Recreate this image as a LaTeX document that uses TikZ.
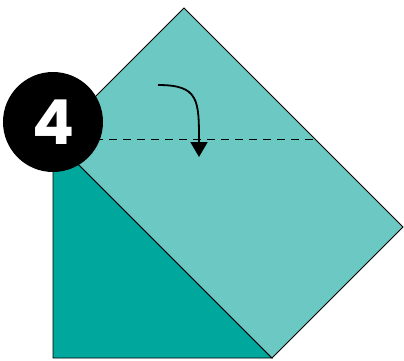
\documentclass[tikz,border=0pt]{standalone}
\usepackage{fontspec}
\newfontfamily\badgefont{Poppins}
\usetikzlibrary{arrows.meta}
\definecolor{lightteal}{RGB}{107,200,195}
\definecolor{darkteal}{RGB}{0,167,157}

\begin{document}
\begin{tikzpicture}[x=1pt, y=-1pt]
    \useasboundingbox (0,0) rectangle (404,360);

    % Corners of the paper
    \coordinate (left) at (53,139);
    \coordinate (top) at (184,8);
    \coordinate (right) at (403,227);
    \coordinate (bottom) at (272,358);
    \coordinate (corner) at (53,358);

    % Back flap (dark side)
    \draw[fill=darkteal, line width=0.8pt] (left) -- (corner) -- (bottom) -- cycle;

    % Front face (light side)
    \draw[fill=lightteal, line width=0.8pt] (left) -- (top) -- (right) -- (bottom) -- cycle;

    % Fold line
    \coordinate (foldend) at (315,139);
    \draw[dashed, dash pattern=on 8pt off 6pt, line width=0.9pt] (left) -- (foldend);

    % Fold arrow
    \coordinate (arrowstart) at (158,85);
    \coordinate (arrowend) at (199,157);
    \draw[line width=1.8pt, -{Triangle[length=15pt, width=17pt]}]
        (arrowstart) .. controls (199,85) and (199,100) .. (arrowend);

    % Step badge
    \node[circle, fill=black, minimum size=100pt, inner sep=0pt, text=white,
          font=\badgefont\bfseries\fontsize{62}{62}\selectfont] (badge) at (53,122) {4};
\end{tikzpicture}
\end{document}
